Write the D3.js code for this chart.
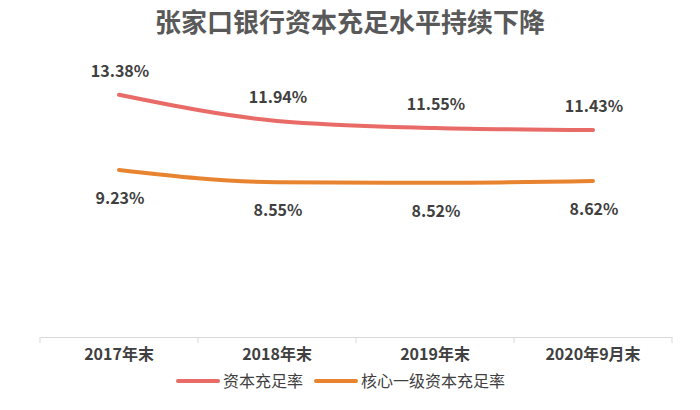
<!DOCTYPE html>
<html><head><meta charset="utf-8">
<script src="https://cdn.jsdelivr.net/npm/d3@7"></script>
<style>body{margin:0;background:#fff;font-family:"Noto Sans CJK SC","Noto Sans",sans-serif;}</style>
</head><body><div id="container"></div>
<script>
/* DATA */
const categories = ["2017年末", "2018年末", "2019年末", "2020年9月末"];
const capitalRatio = [13.38, 11.94, 11.55, 11.43];
const coreRatio = [9.23, 8.55, 8.52, 8.62];
const seriesNames = ["资本充足率", "核心一级资本充足率"];
const colors = ["#E86B67", "#E8832F"];

const width = 700, height = 410,
  margin = { top: 48, bottom: 73, left: 40, right: 28 };

const svg = d3.select("#container").append("svg")
  .attr("width", width).attr("height", height);

svg.append("text")
  .attr("x", width / 2).attr("y", 32)
  .attr("text-anchor", "middle")
  .attr("font-size", 26).attr("font-weight", "bold")
  .attr("fill", "#595959")
  .text("张家口银行资本充足水平持续下降");

const xScale = d3.scaleBand().domain(categories)
  .range([margin.left, width - margin.right]);
const yScale = d3.scaleLinear().domain([0, 16])
  .range([height - margin.bottom, height - margin.bottom - 16 * 18.1]);

// axis
const xAxis = svg.append("g")
  .attr("transform", `translate(0,${height - margin.bottom})`)
  .call(d3.axisBottom(xScale).tickSize(0).tickPadding(12));
xAxis.select(".domain").attr("stroke", "#d9d9d9");
xAxis.selectAll("text").attr("font-size", 16).attr("font-weight", "bold")
  .attr("fill", "#404040").attr("font-family", "Noto Sans CJK SC");
// boundary ticks
svg.append("g").selectAll("line")
  .data(categories.map(c => xScale(c)).concat([xScale.range()[1]]))
  .join("line")
  .attr("x1", d => d).attr("x2", d => d)
  .attr("y1", height - margin.bottom).attr("y2", height - margin.bottom + 6)
  .attr("stroke", "#d9d9d9");

const cx = c => xScale(c) + xScale.bandwidth() / 2;
const line = d3.line().x((d, i) => cx(categories[i])).y(d => yScale(d))
  .curve(d3.curveMonotoneX);

[capitalRatio, coreRatio].forEach((vals, s) => {
  svg.append("path").datum(vals)
    .attr("d", line).attr("fill", "none")
    .attr("stroke", colors[s]).attr("stroke-width", 4)
    .attr("stroke-linecap", "round");
  svg.append("g").selectAll("text").data(vals).join("text")
    .attr("x", (d, i) => cx(categories[i]) + 1)
    .attr("y", d => yScale(d) + (s === 0 ? -18 : 34))
    .attr("text-anchor", "middle")
    .attr("font-size", 16).attr("font-weight", "bold").attr("fill", "#404040")
    .text(d => d.toFixed(2) + "%");
});

// legend
const legendX = [177, 315];
seriesNames.forEach((n, i) => {
  const g = svg.append("g").attr("transform", `translate(${legendX[i]},381)`);
  g.append("line").attr("x1", 1).attr("x2", 41)
    .attr("stroke", colors[i]).attr("stroke-width", 4).attr("stroke-linecap", "round");
  g.append("text").attr("x", 46).attr("y", 6)
    .attr("font-size", 16).attr("fill", "#404040").text(n);
});
</script></body></html>
